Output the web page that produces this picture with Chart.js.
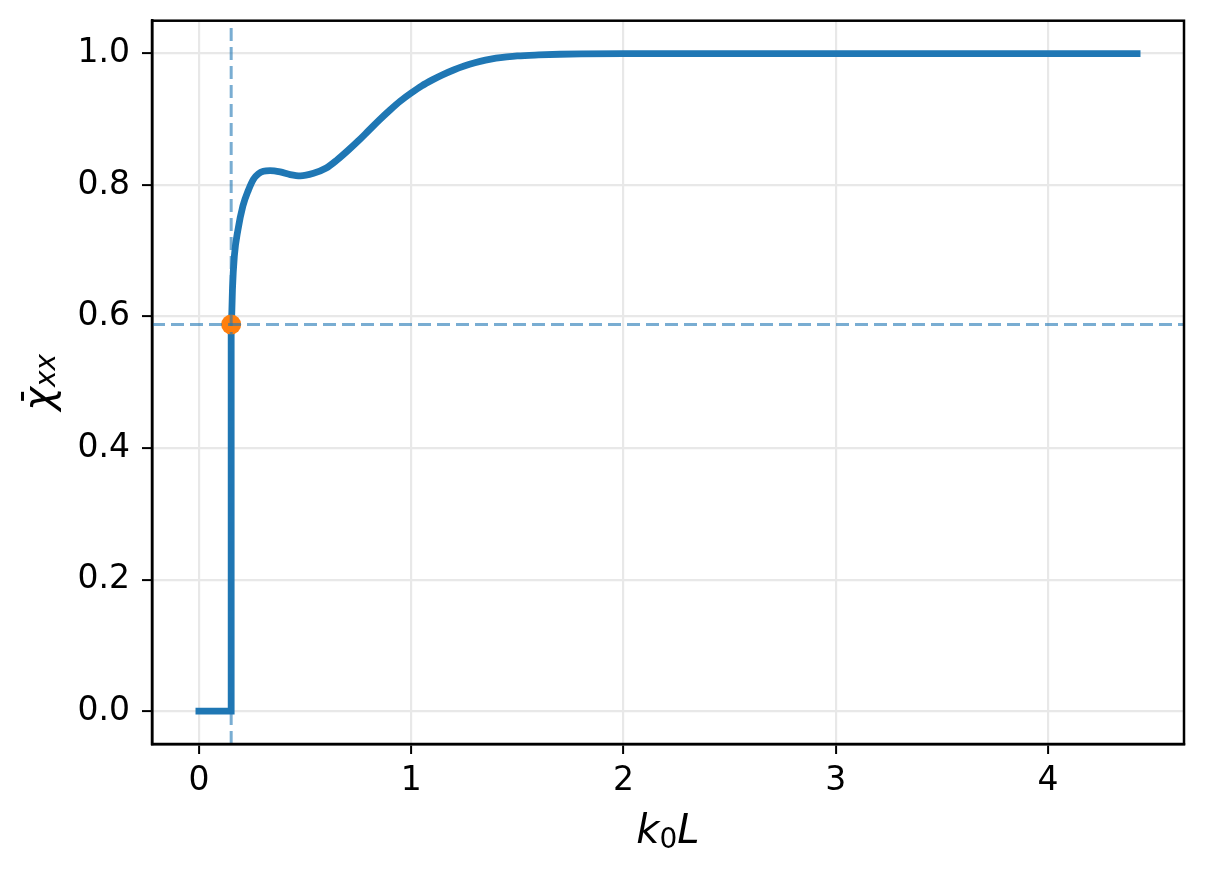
<!DOCTYPE html>
<html lang="en">
<head>
    <meta charset="UTF-8">
    <title>chi_xx vs k0L</title>
    <style>
        body {
            margin: 0;
            background-color: #ffffff;
        }
        canvas {
            display: block;
        }
    </style>
</head>
<body>
    <canvas id="chartContainer" width="1205" height="874"></canvas>
    <script src="https://cdn.jsdelivr.net/npm/chart.js@4/dist/chart.umd.min.js"></script>
    <script>
        // step part (zero until the threshold, then the jump)
        const stepK = [0, 0.152, 0.152];
        const stepChi = [0, 0, 0.588];

        // smooth part after the threshold
        const curveK = [0.152, 0.155, 0.158, 0.167, 0.184, 0.207, 0.234, 0.257, 0.280, 0.304,
            0.335, 0.383, 0.430, 0.478, 0.540, 0.600, 0.650, 0.700, 0.750, 0.800,
            0.850, 0.900, 0.950, 1.000, 1.050, 1.100, 1.150, 1.200, 1.250, 1.300,
            1.350, 1.400, 1.450, 1.500, 1.600, 1.700, 1.800, 2.000, 2.500, 3.000,
            3.500, 4.000, 4.420];
        const curveChi = [0.588, 0.606, 0.641, 0.692, 0.732, 0.768, 0.793, 0.809, 0.817, 0.821,
            0.822, 0.820, 0.816, 0.814, 0.818, 0.826, 0.838, 0.852, 0.867, 0.883,
            0.899, 0.914, 0.928, 0.940, 0.951, 0.960, 0.968, 0.975, 0.981, 0.986,
            0.990, 0.993, 0.995, 0.9965, 0.998, 0.999, 0.9995, 1.0, 1.0, 1.0,
            1.0, 1.0, 1.0];

        // marked threshold point
        const markK = 0.152;
        const markChi = 0.588;

        const xTicks = [0, 1, 2, 3, 4];
        const yTicks = [0, 0.2, 0.4, 0.6, 0.8, 1.0];
        const xMin = -0.221, xMax = 4.641;
        const yMin = -0.05, yMax = 1.05;

        const toPts = (xs, ys) => xs.map((x, i) => ({ x: x, y: ys[i] }));

        const blue = '#1f77b4';
        const dashBlue = 'rgba(31, 119, 180, 0.6)';
        const gridColor = '#e8e8e8';
        const fam = "'DejaVu Sans'";

        // box round the plot plus the two math-style axis titles
        const frame = {
            id: 'frame',
            afterDraw(c) {
                const { ctx, chartArea: a } = c;
                ctx.save();
                ctx.strokeStyle = '#000';
                ctx.lineWidth = 2.5;
                ctx.strokeRect(a.left, a.top, a.right - a.left, a.bottom - a.top);

                ctx.fillStyle = '#000';
                ctx.textBaseline = 'alphabetic';
                ctx.textAlign = 'left';

                // x title: k_0 L
                const big = 'italic 40px ' + fam;
                const small = '28px ' + fam;
                ctx.font = big;
                const wk = ctx.measureText('k').width;
                const wL = ctx.measureText('L').width;
                ctx.font = small;
                const w0 = ctx.measureText('0').width;
                let x0 = (a.left + a.right) / 2 - (wk + w0 + wL) / 2;
                const base = 843;
                ctx.font = big;
                ctx.fillText('k', x0, base);
                ctx.font = small;
                ctx.fillText('0', x0 + wk, base + 5);
                ctx.font = big;
                ctx.fillText('L', x0 + wk + w0, base);

                // y title: chi-bar_xx, rotated
                ctx.translate(52, (a.top + a.bottom) / 2);
                ctx.rotate(-Math.PI / 2);
                ctx.font = big;
                const wc = ctx.measureText('χ').width;
                ctx.font = 'italic 28px ' + fam;
                const wx = ctx.measureText('xx').width;
                const s = -(wc + wx) / 2;
                ctx.font = big;
                ctx.fillText('χ', s, 0);
                ctx.fillRect(s + 0.42 * wc, -31, 0.38 * wc, 3);
                ctx.font = 'italic 28px ' + fam;
                ctx.fillText('xx', s + wc, 3);
                ctx.restore();
            }
        };

        const tickFont = { family: 'DejaVu Sans', size: 33 };

        new Chart(document.getElementById('chartContainer'), {
            type: 'scatter',
            data: {
                datasets: [
                    {
                        // vertical dashed guide
                        data: [{ x: markK, y: yMin }, { x: markK, y: yMax }],
                        showLine: true,
                        borderColor: dashBlue,
                        borderWidth: 3,
                        borderDash: [13, 6],
                        pointRadius: 0,
                        order: 0
                    },
                    {
                        // horizontal dashed guide
                        data: [{ x: xMin, y: markChi }, { x: xMax, y: markChi }],
                        showLine: true,
                        borderColor: dashBlue,
                        borderWidth: 3,
                        borderDash: [13, 6],
                        pointRadius: 0,
                        order: 0
                    },
                    {
                        data: [{ x: markK, y: markChi }],
                        backgroundColor: '#ff7f0e',
                        borderWidth: 0,
                        pointRadius: 10,
                        order: 1
                    },
                    {
                        data: toPts(stepK, stepChi),
                        showLine: true,
                        borderColor: blue,
                        borderWidth: 6.8,
                        borderJoinStyle: 'miter',
                        borderCapStyle: 'square',
                        pointRadius: 0,
                        tension: 0,
                        order: 2
                    },
                    {
                        data: toPts(curveK, curveChi),
                        showLine: true,
                        borderColor: blue,
                        borderWidth: 6.8,
                        borderCapStyle: 'square',
                        pointRadius: 0,
                        cubicInterpolationMode: 'monotone',
                        order: 2
                    }
                ]
            },
            options: {
                responsive: false,
                animation: false,
                devicePixelRatio: 1,
                layout: { padding: { top: 20.7, right: 21, left: 0, bottom: 0 } },
                plugins: {
                    legend: { display: false },
                    tooltip: { enabled: false }
                },
                scales: {
                    x: {
                        type: 'linear',
                        min: xMin,
                        max: xMax,
                        afterBuildTicks: s => { s.ticks = xTicks.map(v => ({ value: v })); },
                        afterFit: s => {
                            s.height = 130;
                            s.paddingLeft = 0;
                            s.paddingRight = 0;
                        },
                        ticks: {
                            color: '#000',
                            font: tickFont,
                            padding: 8,
                            maxRotation: 0,
                            callback: v => v.toFixed(0)
                        },
                        grid: {
                            color: gridColor,
                            lineWidth: 2.2,
                            tickColor: '#000',
                            tickLength: 10,
                            tickWidth: 2
                        },
                        border: { display: true, color: '#000', width: 2.5 }
                    },
                    y: {
                        type: 'linear',
                        min: yMin,
                        max: yMax,
                        afterBuildTicks: s => { s.ticks = yTicks.map(v => ({ value: v })); },
                        afterFit: s => {
                            s.width = 152;
                            s.paddingTop = 0;
                            s.paddingBottom = 0;
                        },
                        ticks: {
                            color: '#000',
                            font: tickFont,
                            padding: 12,
                            callback: v => v.toFixed(1)
                        },
                        grid: {
                            color: gridColor,
                            lineWidth: 2.2,
                            tickColor: '#000',
                            tickLength: 10,
                            tickWidth: 2
                        },
                        border: { display: true, color: '#000', width: 2.5 }
                    }
                }
            },
            plugins: [frame]
        });
    </script>
</body>
</html>
